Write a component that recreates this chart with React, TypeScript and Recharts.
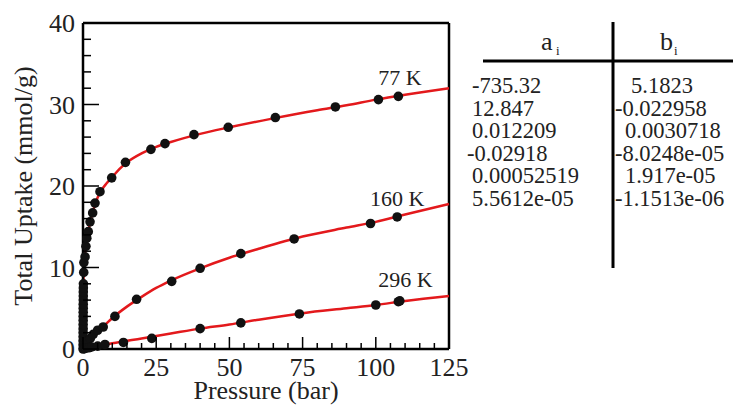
import React from 'react';
import { ComposedChart, Line, Scatter, XAxis, YAxis, ReferenceLine, ReferenceDot, Label } from 'recharts';

// measured isotherm points (bar, mmol/g)
const points77K = [
  [0.02, 0], [0.03, 0.5], [0.03, 1], [0.04, 1.5], [0.04, 2], [0.05, 2.5], [0.05, 3], [0.06, 3.5],
  [0.06, 4], [0.07, 4.5], [0.08, 5], [0.08, 5.5], [0.09, 6], [0.1, 6.5], [0.1, 7], [0.12, 7.5],
  [0.14, 8], [0.25, 9.4], [0.3, 10.6], [0.7, 11.3], [1.0, 12.6], [1.3, 13.6], [1.8, 14.4], [2.4, 15.6],
  [3.3, 16.7], [4.1, 17.9], [5.8, 19.3], [9.8, 21.0], [14.5, 22.9], [23.2, 24.5], [28, 25.2],
  [37.9, 26.3], [49.6, 27.2], [65.7, 28.4], [86.2, 29.7], [100.9, 30.6], [107.7, 31.0],
];
const points160K = [
  [0.2, 0.1], [0.5, 0.3], [1, 0.6], [1.5, 0.9], [2.5, 1.3], [3.5, 1.8], [5, 2.3], [6.9, 2.7],
  [10.9, 4.0], [18.3, 6.1], [30.3, 8.3], [40, 9.9], [53.9, 11.7], [72.1, 13.5], [98.2, 15.4], [107.3, 16.2],
];
const points296K = [
  [0.5, 0.05], [1, 0.1], [2, 0.15], [3, 0.25], [5, 0.35], [7.5, 0.55], [13.8, 0.8], [23.5, 1.3],
  [40, 2.5], [53.9, 3.2], [73.9, 4.3], [100, 5.4], [107.7, 5.8], [108.2, 5.9],
];

// fitted curves
const fit77K = [
  [0, 0], [0.02, 3], [0.05, 5.5], [0.1, 7.5], [0.2, 9.2], [0.4, 10.8], [0.7, 11.8], [1, 12.6],
  [1.5, 13.8], [2, 14.8], [3, 16.4], [4, 17.6], [5, 18.6], [6.5, 19.6], [8, 20.3], [10, 21.1],
  [12.5, 22.1], [15, 22.9], [20, 24.0], [25, 24.8], [30, 25.4], [40, 26.4], [50, 27.2], [65, 28.3],
  [80, 29.3], [90, 29.9], [100, 30.6], [110, 31.2], [125, 32.0],
];
const fit160K = [
  [0, 0], [2, 1.0], [5, 2.2], [7, 2.8], [10, 3.8], [15, 5.2], [20, 6.4], [25, 7.5], [30, 8.4],
  [40, 9.9], [50, 11.2], [60, 12.3], [75, 13.8], [90, 14.9], [100, 15.6], [110, 16.5], [125, 17.8],
];
const fit296K = [
  [0, 0], [5, 0.35], [10, 0.7], [20, 1.3], [30, 1.9], [40, 2.5], [50, 3.0], [60, 3.6], [75, 4.4],
  [90, 5.0], [100, 5.4], [110, 5.9], [125, 6.5],
];

const curveLabels = [
  { text: '77 K', p: 100.8, u: 32.4 },
  { text: '160 K', p: 98.0, u: 17.5 },
  { text: '296 K', p: 100.8, u: 7.6 },
];

const xTicks = [0, 5, 10, 15, 20, 25, 30, 35, 40, 45, 50, 55, 60, 65, 70, 75, 80, 85, 90, 95, 100, 105, 110, 115, 120, 125];
const yTicks = [0, 2, 4, 6, 8, 10, 12, 14, 16, 18, 20, 22, 24, 26, 28, 30, 32, 34, 36, 38, 40];

const aCoeffs = ['-735.32', '12.847', '0.012209', '-0.02918', '0.00052519', '5.5612e-05'];
const bCoeffs = ['5.1823', '-0.022958', '0.0030718', '-8.0248e-05', '1.917e-05', '-1.1513e-06'];

const toRows = (arr: number[][]) => arr.map(([p, u]) => ({ p, u }));

const FONT = "'Liberation Serif', 'DejaVu Serif', serif";
const RED = '#e3191c';
const txt = (size: number) => ({ fontFamily: FONT, fontSize: size, fill: '#222' });

const XTick = ({ x, y, payload }: any) => {
  const major = payload.value % 25 === 0;
  return (
    <g>
      <line x1={x} x2={x} y1={y} y2={y - (major ? 12 : 6)} stroke="#000" strokeWidth={1.5} />
      {major && (
        <text x={x} y={y + 27} textAnchor="middle" style={txt(26)}>
          {payload.value}
        </text>
      )}
    </g>
  );
};

const YTick = ({ x, y, payload }: any) => {
  const major = payload.value % 10 === 0;
  return (
    <g>
      <line x1={x} x2={x + (major ? 16 : 8)} y1={y} y2={y} stroke="#000" strokeWidth={1.5} />
      {major && (
        <text x={x - 8} y={y + 9} textAnchor="end" style={txt(26)}>
          {payload.value}
        </text>
      )}
    </g>
  );
};

const YTitle = ({ viewBox }: any) => {
  const cy = viewBox.y + viewBox.height / 2;
  return (
    <text x={0} y={0} transform={`translate(32, ${cy}) rotate(-90)`} textAnchor="middle" style={txt(26)}>
      Total Uptake (mmol/g)
    </text>
  );
};

const XTitle = ({ viewBox }: any) => (
  <text x={viewBox.x + viewBox.width / 2} y={399} textAnchor="middle" style={txt(26)}>
    Pressure (bar)
  </text>
);

const Dot = (props: any) => <circle cx={props.cx} cy={props.cy} r={4.8} fill="#111" />;

const CoeffTable = () => (
  <svg width={733} height={406} style={{ position: 'absolute', left: 0, top: 0, pointerEvents: 'none' }}>
    <text x={541} y={50} style={txt(26)}>a</text>
    <text x={556} y={55} style={txt(13)}>i</text>
    <text x={660} y={50} style={txt(26)}>b</text>
    <text x={674} y={55} style={txt(13)}>i</text>
    {aCoeffs.map((v, i) => (
      <text key={'a' + i} x={v.startsWith('-') && i > 0 ? 467 : 472} y={93 + i * 22.6} style={txt(22.5)}>{v}</text>
    ))}
    {bCoeffs.map((v, i) => (
      <text key={'b' + i} x={v.startsWith('-') ? 615 : i === 0 ? 631 : 625} y={93 + i * 22.6} style={txt(22.5)}>{v}</text>
    ))}
    <line x1={483} x2={733} y1={61} y2={61} stroke="#000" strokeWidth={3} />
    <line x1={613} x2={613} y1={22} y2={268} stroke="#000" strokeWidth={3} />
  </svg>
);

const App: React.FC = () => {
  return (
    <div style={{ position: 'absolute', left: 0, top: 0, width: 733, height: 406, background: '#fff' }}>
      <ComposedChart width={733} height={406} margin={{ top: 23, right: 284, bottom: 0, left: 0 }}>
        <XAxis
          type="number"
          dataKey="p"
          domain={[0, 125]}
          ticks={xTicks}
          interval={0}
          height={57}
          tickSize={0}
          tickMargin={0}
          tickLine={false}
          axisLine={{ stroke: '#000', strokeWidth: 2.5 }}
          tick={<XTick />}
        >
          <Label content={<XTitle />} />
        </XAxis>
        <YAxis
          type="number"
          dataKey="u"
          domain={[0, 40]}
          ticks={yTicks}
          interval={0}
          width={83}
          tickSize={0}
          tickMargin={0}
          tickLine={false}
          axisLine={{ stroke: '#000', strokeWidth: 2.5 }}
          tick={<YTick />}
        >
          <Label content={<YTitle />} />
        </YAxis>
        <ReferenceLine y={40} stroke="#000" strokeWidth={2.5} />
        <ReferenceLine x={125} stroke="#000" strokeWidth={2.5} />

        <Scatter data={toRows(points77K)} fill="#111" shape={<Dot />} isAnimationActive={false} />
        <Scatter data={toRows(points160K)} fill="#111" shape={<Dot />} isAnimationActive={false} />
        <Scatter data={toRows(points296K)} fill="#111" shape={<Dot />} isAnimationActive={false} />

        <Line data={toRows(fit77K)} dataKey="u" type="monotone" stroke={RED} strokeWidth={2.5} dot={false} isAnimationActive={false} />
        <Line data={toRows(fit160K)} dataKey="u" type="monotone" stroke={RED} strokeWidth={2.5} dot={false} isAnimationActive={false} />
        <Line data={toRows(fit296K)} dataKey="u" type="monotone" stroke={RED} strokeWidth={2.5} dot={false} isAnimationActive={false} />

        {curveLabels.map((l) => (
          <ReferenceDot
            key={l.text}
            x={l.p}
            y={l.u}
            r={0}
            shape={(props: any) => (
              <text x={props.cx} y={props.cy} style={txt(22)}>{l.text}</text>
            )}
          />
        ))}
      </ComposedChart>
      <CoeffTable />
    </div>
  );
};

export default App;
